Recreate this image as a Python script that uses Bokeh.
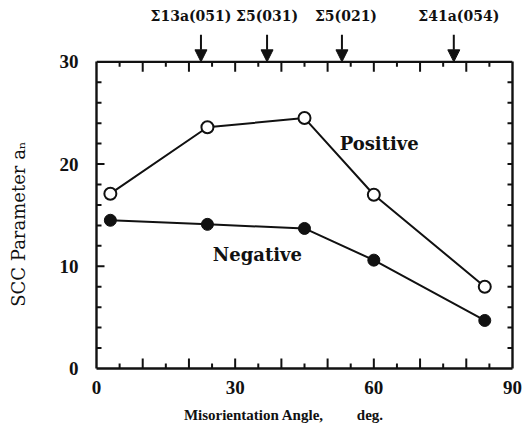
from bokeh.plotting import figure
from bokeh.models import (Range1d, LinearAxis, SingleIntervalTicker, FixedTicker, Label,
                          Arrow, NormalHead, ColumnDataSource, Span, Title)
from bokeh.embed import file_html
from bokeh.resources import INLINE

# ---- data ----
angles = [3, 24, 45, 60, 84]
positive = [17.1, 23.6, 24.5, 17.0, 8.0]
negative = [14.5, 14.1, 13.7, 10.6, 4.7]

boundary_angles = [22.6, 36.9, 53.1, 77.3]
boundary_labels = ["Σ13a(051)", "Σ5(031)", "Σ5(021)", "Σ41a(054)"]

# tick positions of the frame
x_major_ticks = [10, 20, 30, 40, 50, 60, 70, 80]
x_minor_ticks = [5, 15, 25, 35, 45, 55, 65, 75, 85]
y_major_ticks = [10, 20]
y_minor_ticks = [2, 4, 6, 8, 12, 14, 16, 18, 22, 24, 26, 28]

X_MIN, X_MAX = 0, 90
Y_MIN, Y_MAX = 0, 30

SERIF = "DejaVu Serif"
NARROW = "Liberation Serif"
INK = "#111111"

# styling (pixel sizes)
W, H = 524, 439
LEFT, RIGHT, BOTTOM = 96, 12, 71
Y_TOP_EXTRA = 6  # room above the frame box (data units) for the boundary arrows
px_x = (W - LEFT - RIGHT) / (X_MAX - X_MIN)
px_y = (H - BOTTOM) / (Y_MAX + Y_TOP_EXTRA - Y_MIN)

p = figure(width=W, height=H, output_backend="svg", toolbar_location=None,
           x_range=Range1d(X_MIN, X_MAX), y_range=Range1d(Y_MIN, Y_MAX + Y_TOP_EXTRA),
           x_axis_location=None, y_axis_location=None,
           min_border_left=LEFT, min_border_right=RIGHT, min_border_top=0,
           min_border_bottom=BOTTOM)
p.background_fill_color = "white"
p.border_fill_color = "white"
p.outline_line_color = None
p.xgrid.visible = False
p.ygrid.visible = False


def style_axis(ax):
    ax.axis_line_color = INK
    ax.axis_line_width = 2.4
    ax.major_tick_in = 0
    ax.major_tick_out = 0
    ax.minor_tick_in = 0
    ax.minor_tick_out = 0
    ax.major_label_text_font = NARROW
    ax.major_label_text_font_style = "bold"
    ax.major_label_text_font_size = "19px"
    ax.major_label_text_color = INK


xb = LinearAxis(ticker=SingleIntervalTicker(interval=30, num_minor_ticks=0))
style_axis(xb)
xb.major_label_standoff = 12
xb.axis_label = ("Misorientation Angle,\u00a0\u00a0\u00a0\u00a0\u00a0\u00a0\u00a0\u00a0 deg."
                 + "\u00a0" * 11)
xb.axis_label_text_font = NARROW
xb.axis_label_text_font_style = "bold"
xb.axis_label_text_font_size = "15px"
xb.axis_label_text_color = INK
xb.axis_label_standoff = 10
p.add_layout(xb, "below")

yl = LinearAxis(ticker=SingleIntervalTicker(interval=10, num_minor_ticks=0),
                bounds=(Y_MIN, Y_MAX))
style_axis(yl)
yl.major_label_standoff = 18
p.add_layout(yl, "left")

# y-axis title; blank padding at its end moves the words toward the 0..30 box
p.add_layout(Title(text="SCC Parameter aₙ" + "\u2800" * 6 + "\n\u00a0", align="center",
                   vertical_align="top",
                   text_font=SERIF, text_font_style="normal", text_font_size="18px",
                   text_color=INK, standoff=10), "left")

yr = LinearAxis(ticker=FixedTicker(ticks=[]), bounds=(Y_MIN, Y_MAX))
style_axis(yr)
yr.major_label_standoff = 0
p.add_layout(yr, "right")

p.add_layout(Span(location=Y_MAX, dimension="width", line_color=INK, line_width=2.4))


# inward tick marks on all four sides
def ticks(xs0, ys0, xs1, ys1):
    p.segment(x0=xs0, y0=ys0, x1=xs1, y1=ys1, line_color=INK, line_width=2)


maj_len_y = 10 / px_y
min_len_y = 5 / px_y
ticks(x_major_ticks, [Y_MIN] * len(x_major_ticks), x_major_ticks,
      [Y_MIN + maj_len_y] * len(x_major_ticks))
ticks(x_minor_ticks, [Y_MIN] * len(x_minor_ticks), x_minor_ticks,
      [Y_MIN + min_len_y] * len(x_minor_ticks))
ticks(x_major_ticks, [Y_MAX] * len(x_major_ticks), x_major_ticks,
      [Y_MAX - maj_len_y] * len(x_major_ticks))
ticks(x_minor_ticks, [Y_MAX] * len(x_minor_ticks), x_minor_ticks,
      [Y_MAX - min_len_y] * len(x_minor_ticks))
maj_len_x = 8 / px_x
min_len_x = 5 / px_x
ticks([X_MIN] * len(y_major_ticks), y_major_ticks,
      [X_MIN + maj_len_x] * len(y_major_ticks), y_major_ticks)
ticks([X_MIN] * len(y_minor_ticks), y_minor_ticks,
      [X_MIN + min_len_x] * len(y_minor_ticks), y_minor_ticks)
ticks([X_MAX] * len(y_major_ticks), y_major_ticks,
      [X_MAX - min_len_x] * len(y_major_ticks), y_major_ticks)
ticks([X_MAX] * len(y_minor_ticks), y_minor_ticks,
      [X_MAX - min_len_x] * len(y_minor_ticks), y_minor_ticks)

# data series
src = ColumnDataSource(dict(x=angles, pos=positive, neg=negative))
p.line("x", "pos", source=src, line_color=INK, line_width=2)
p.line("x", "neg", source=src, line_color=INK, line_width=2)
p.scatter("x", "pos", source=src, size=12, marker="circle",
          fill_color="white", line_color=INK, line_width=2)
p.scatter("x", "neg", source=src, size=12, marker="circle",
          fill_color=INK, line_color=INK, line_width=1)

p.add_layout(Label(x=52.6, y=22.0, text="Positive", text_font=SERIF,
                   text_font_style="bold", text_font_size="18px", text_color=INK,
                   text_align="left", text_baseline="middle"))
p.add_layout(Label(x=34.8, y=11.2, text="Negative", text_font=SERIF,
                   text_font_style="bold", text_font_size="18px", text_color=INK,
                   text_align="center", text_baseline="middle"))

# boundary markers above the frame
label_shift = [-10, 0, 4, 5]
for a, t, dx in zip(boundary_angles, boundary_labels, label_shift):
    p.add_layout(Arrow(end=NormalHead(size=12, fill_color=INK, line_color=INK),
                       x_start=a, y_start=Y_MAX + 27 / px_y, x_end=a, y_end=Y_MAX,
                       line_color=INK, line_width=2))
    p.add_layout(Label(x=a, y=Y_MAX + 46 / px_y, x_offset=dx, text=t, text_font=SERIF,
                       text_font_style="bold", text_font_size="14px", text_color=INK,
                       text_align="center", text_baseline="middle"))

open("out.html", "w").write(file_html(p, INLINE))
